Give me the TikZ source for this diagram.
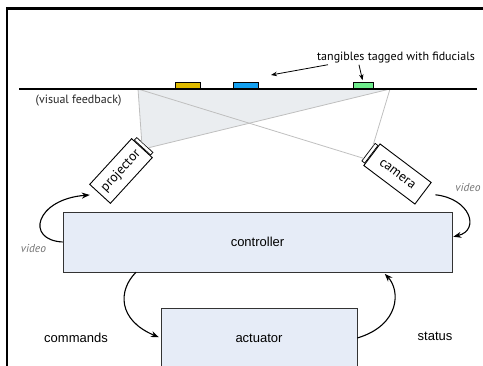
\documentclass[tikz,border=0pt]{standalone}
\usepackage{fontspec}
\setmainfont{Liberation Sans}
\newfontfamily\myriad{PT Sans}
\usetikzlibrary{arrows.meta, calc, positioning}
\definecolor{boxBlue}{RGB}{230,236,247}
\definecolor{beamGray}{gray}{0.75}
\definecolor{beamFill}{RGB}{234,237,240}
\definecolor{labelGray}{gray}{0.45}
\definecolor{tagYellow}{RGB}{222,186,0}
\definecolor{tagBlue}{RGB}{20,160,240}
\definecolor{tagGreen}{RGB}{110,235,140}

\begin{document}
\begin{tikzpicture}[x=1pt, y=-1pt, >={Stealth[length=8pt,width=6pt]},
    block/.style={draw=black!80, line width=0.7pt, fill=boxBlue, inner sep=0pt, font=\fontsize{13}{15}\selectfont},
    device/.style={draw, line width=0.9pt, fill=white, minimum width=62pt, minimum height=28pt, inner sep=0pt, font=\myriad\fontsize{13.5}{15}\selectfont},
    lens/.style={draw, line width=0.7pt, fill=white, minimum width=3.5pt, minimum height=22pt, inner sep=0pt},
    fiducial/.style={draw, line width=0.8pt, minimum width=25pt, minimum height=6pt, inner sep=0pt, anchor=south},
    flow/.style={->, line width=1.1pt},
    pointer/.style={-{Stealth[length=6pt,width=4.5pt]}, line width=0.8pt},
    beam/.style={beamGray, line width=0.8pt},
    vid/.style={labelGray, font=\myriad\itshape\fontsize{11.5}{13}\selectfont}]
    \useasboundingbox (0,0) rectangle (483,366);
    \clip (0,0) rectangle (483,366);

    % Frame
    \draw[line width=2.6pt] (7,366) |- (483,8.7);

    % Projector and camera
    \node[device, rotate=47.5] (projector) at (121,171) {projector};
    \node[lens, rotate=47.5, anchor=west] (plens) at (projector.east) {};
    \node[device, rotate=-37, minimum width=64pt, minimum height=27pt] (camera) at (397.5,174) {camera};
    \node[lens, rotate=-37, anchor=east] (clens) at (camera.west) {};

    % Beams
    \coordinate (beamL) at (138,89);
    \coordinate (beamR) at (390,89);
    \coordinate (pUp) at ($(plens.north east)!0.3!(plens.south east)$);
    \coordinate (pLow) at ($(plens.north east)!0.7!(plens.south east)$);
    \coordinate (cUp) at ($(clens.north west)!0.15!(clens.south west)$);
    \coordinate (cLow) at ($(clens.north west)!0.85!(clens.south west)$);
    \fill[beamFill] (beamL) -- (beamR) -- (pLow) -- (pUp) -- cycle;
    \draw[beam] (beamL) -- (pUp);
    \draw[beam] (beamR) -- (pLow);
    \draw[beam] (beamL) -- (cLow);
    \draw[beam] (beamR) -- (cUp);

    % Surface with tangibles
    \coordinate (surfL) at (19,89);
    \coordinate (surfR) at (477,89);
    \draw[line width=1.2pt] (surfL) -- (surfR);
    \node[fiducial, fill=tagYellow] (fidA) at (187.5,89) {};
    \node[fiducial, fill=tagBlue] (fidB) at (246,89) {};
    \node[fiducial, fill=tagGreen, minimum width=20pt] (fidC) at (363,89) {};

    \node[font=\myriad\fontsize{12}{14}\selectfont, inner sep=1pt] (tagLabel) at (396,58) {tangibles tagged with fiducials};
    \node[font=\myriad\fontsize{12}{14}\selectfont, text=black!85] (feedback) at (78.5,101) {(visual feedback)};
    \coordinate (aimA) at (271,75);
    \draw[pointer] ([xshift=12pt]tagLabel.south west) -- (aimA);
    \draw[pointer, shorten >=2pt] ([xshift=43pt]tagLabel.south west) -- (fidC.north);

    % Controller and actuator
    \node[block, minimum width=389pt, minimum height=60pt] (controller) at (257.5,242) {controller};
    \node[block, minimum width=196pt, minimum height=60pt] (actuator) at (259,338) {actuator};
    \node[font=\fontsize{13}{15}\selectfont] (commands) at (76,338) {commands};
    \node[font=\fontsize{13}{15}\selectfont] (status) at (435,336) {status};
    \node[vid] (videoL) at (33.5,249) {video};
    \node[vid] (videoR) at (468,188) {video};

    % Data flow
    \draw[flow, shorten >=10pt] (controller.west) .. controls +(-38,-2) and +(-64,5) .. (projector.west);
    \draw[flow, shorten <=12pt, shorten >=1pt] (camera.east) .. controls +(47,5) and +(28,-7) .. ([yshift=5pt]controller.east);
    \draw[flow, shorten >=2pt] ($(controller.south west)!0.188!(controller.south east)$) .. controls +(-18,18) and +(-43,-18) .. (actuator.west);
    \draw[flow, shorten >=2pt] (actuator.east) .. controls +(43,-13) and +(17,18) .. ($(controller.south west)!0.823!(controller.south east)$);
\end{tikzpicture}
\end{document}
